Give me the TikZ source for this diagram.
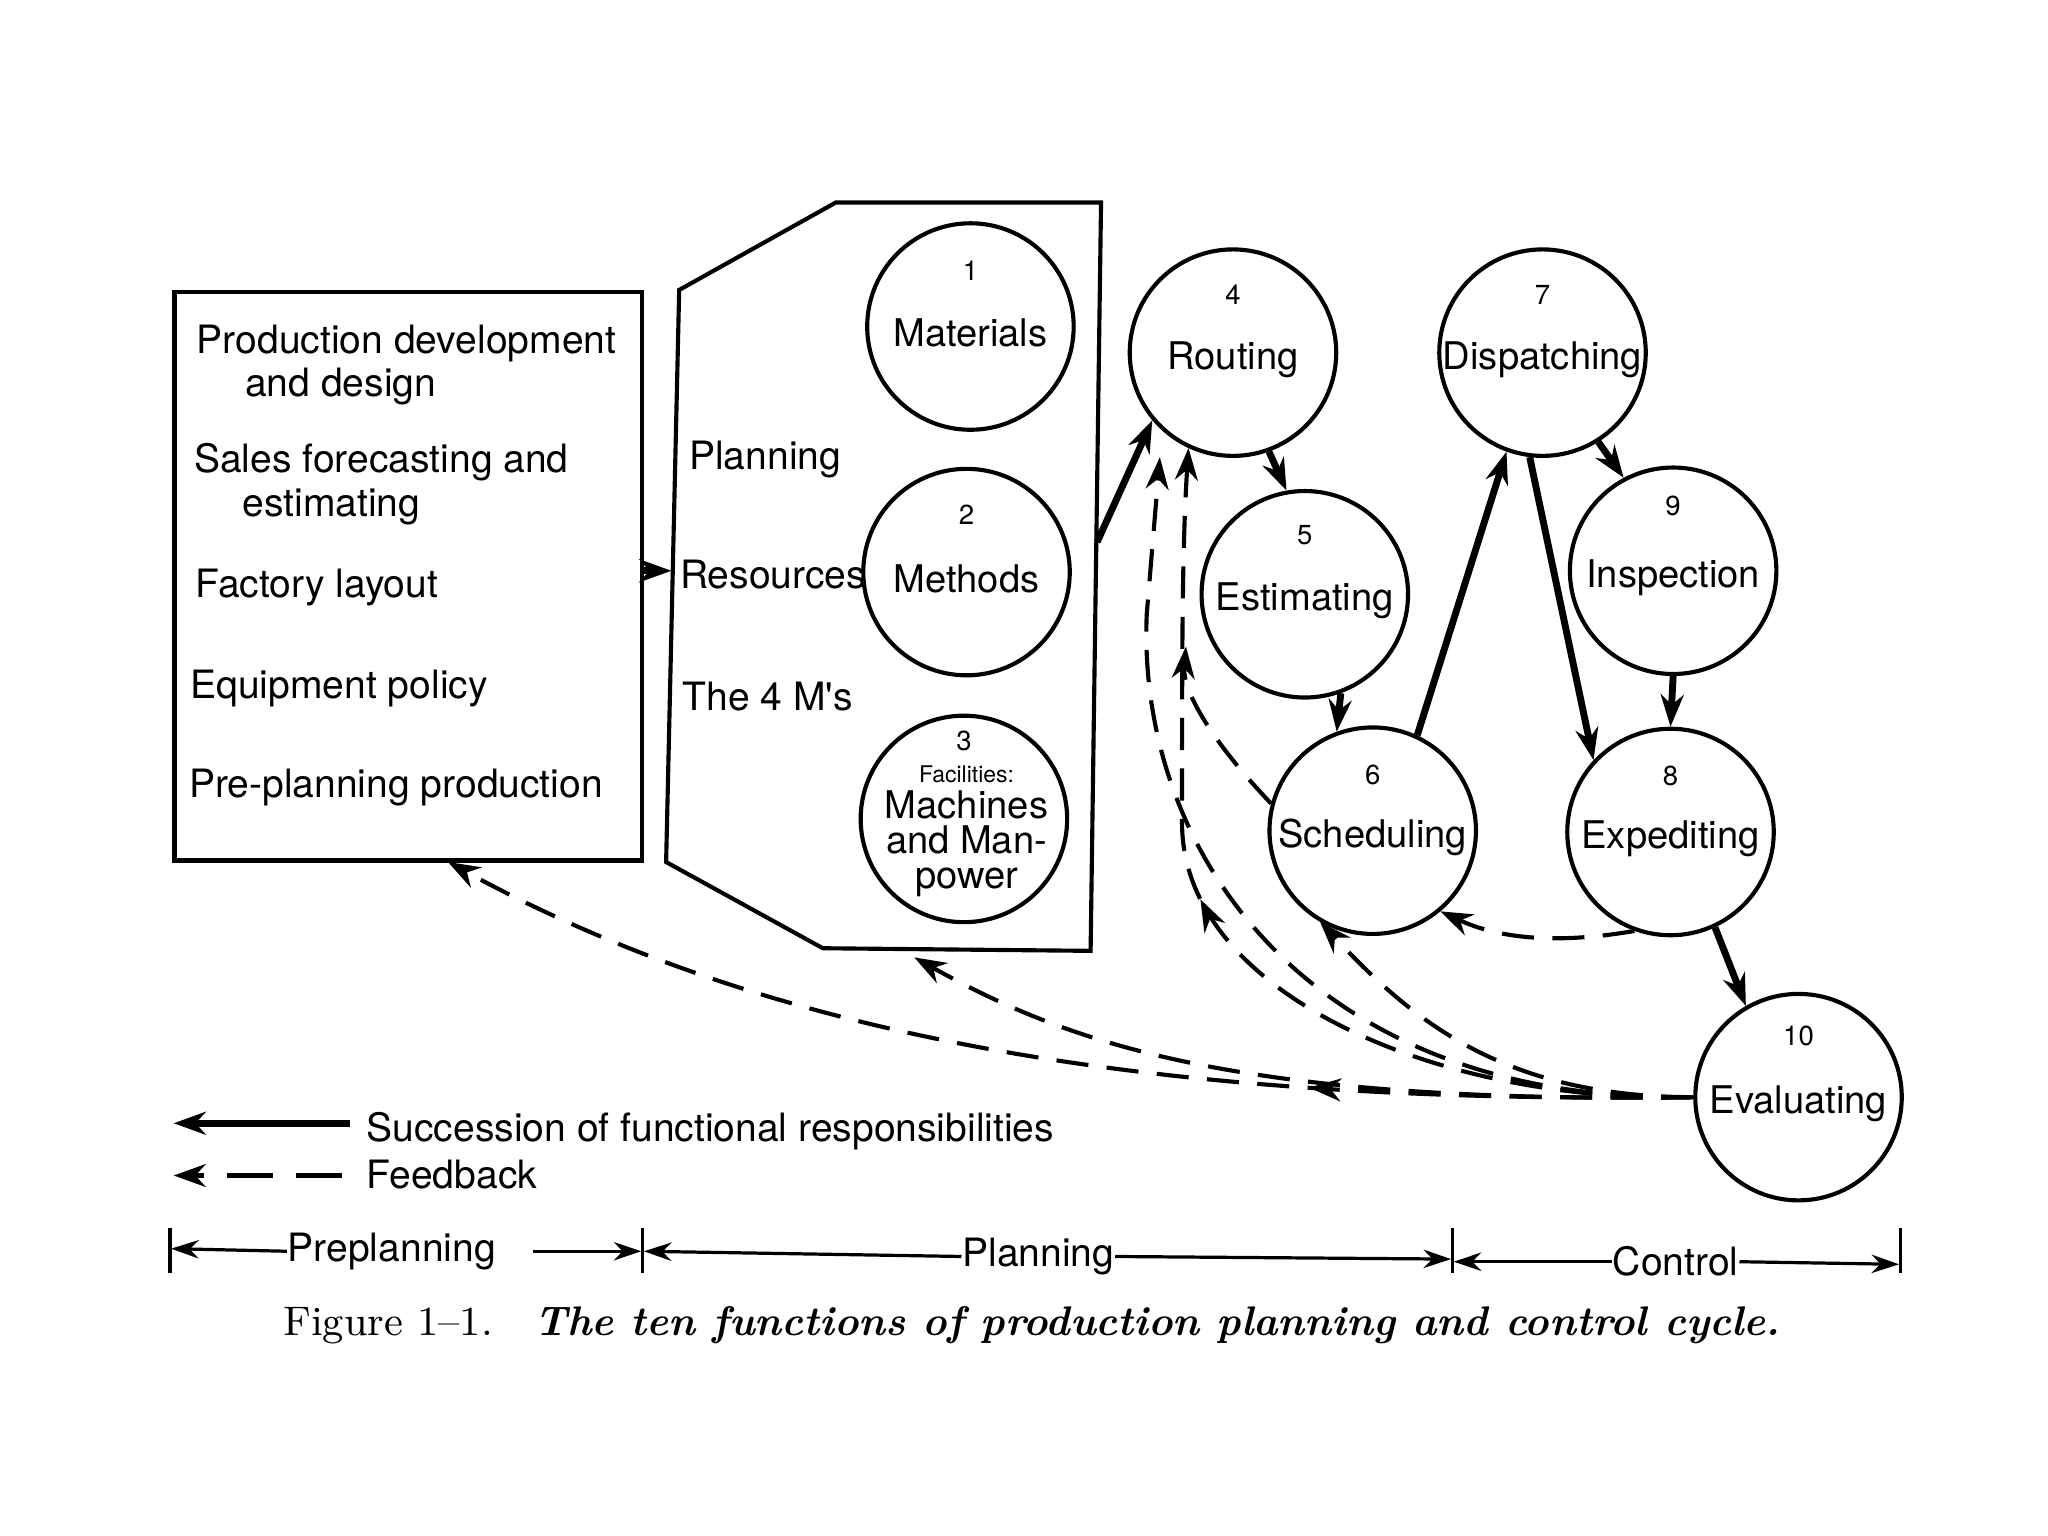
\documentclass[tikz,border=0pt]{standalone}
\usepackage{fontspec}
\newfontfamily\sansf{TeX Gyre Heros}
\usetikzlibrary{arrows.meta,decorations.markings}
\begin{document}
\begin{tikzpicture}[x=0.01cm,y=-0.01cm,
  txt/.style={font=\sansf\fontsize{8.5}{9}\selectfont,inner sep=0pt},
  circ/.style={draw,circle,line width=0.9pt,minimum size=1.58cm,inner sep=0pt,align=center,font=\sansf\fontsize{8.3}{9}\selectfont},
  num/.style={font=\sansf\fontsize{6}{7}\selectfont},
  succ/.style={line width=1.5pt,-{Stealth[length=7pt,width=5pt]}},
  fb/.style={line width=0.9pt,dash pattern=on 7pt off 4pt,-{Stealth[length=7pt,width=5pt]}},
  midarr/.style={postaction={decorate},decoration={markings,mark=at position #1 with {\arrow[line width=0.9pt]{Stealth[length=7pt,width=5pt]}}}}]
\useasboundingbox (0,0) rectangle (1568,1176);
\node[draw,line width=0.9pt,minimum width=3.58cm,minimum height=4.35cm,anchor=north west] (pre) at (132,222) {};
\node[txt,anchor=west] (t1) at (150,263) {Production development};
\node[txt,anchor=west] (t2) at (187,296) {and design};
\node[txt,anchor=west] (t3) at (148,354) {Sales forecasting and};
\node[txt,anchor=west] (t4) at (185,388) {estimating};
\node[txt,anchor=west] (t5) at (149,450) {Factory layout};
\node[txt,anchor=west] (t6) at (145,527) {Equipment policy};
\node[txt,anchor=west] (t7) at (144,603) {Pre-planning production};
\draw[line width=0.9pt] (520,222) -- (640,155) -- (843,155) -- (835,728) -- (630,726) -- (510,660) -- cycle;
\coordinate (resL) at (514,437);
\coordinate (resR) at (840,415);
\coordinate (resB) at (700,733);
\node[txt,anchor=west] (p1) at (527,352) {Planning};
\node[txt,anchor=west] (p2) at (520,440) {Resources};
\node[txt,anchor=west] (p3) at (522,533) {The 4 M's};
\node[circ] (c1) at (743,250) {\\Materials};
\node[num] at (743,207) {1};
\node[circ] (c2) at (740,438) {\\Methods};
\node[num] at (740,394) {2};
\node[circ] (c3) at (738,627) {};
\node[num] at (738,567) {3};
\node[font=\sansf\fontsize{5}{6}\selectfont] at (740,593) {Facilities:};
\node[align=center,font=\sansf\fontsize{8.3}{7.6}\selectfont] at (740,646) {Machines\\and Man-\\power};
\node[circ] (c4) at (944,270) {\\Routing};
\node[num] at (944,226) {4};
\node[circ] (c5) at (999,455) {\\Estimating};
\node[num] at (999,410) {5};
\node[circ] (c6) at (1051,636) {\\Scheduling};
\node[num] at (1051,593) {6};
\node[circ] (c7) at (1181,270) {\\Dispatching};
\node[num] at (1181,226) {7};
\node[circ] (c8) at (1279,637) {\\Expediting};
\node[num] at (1279,594) {8};
\node[circ] (c9) at (1281,437) {\\Inspection};
\node[num] at (1281,387) {9};
\node[circ] (c10) at (1377,840) {\\Evaluating};
\node[num] at (1377,793) {10};
% succession
\draw[succ] (pre.east |- resL) -- (resL);
\draw[succ] (resR) -- (c4.220);
\draw[succ] (c4.290) -- (c5.100);
\draw[succ] (c5.290) -- (c6.110);
\draw[succ] (c6.65) -- (c7.250);
\draw[succ] (c7.263) -- (c8.137);
\draw[succ] (c7.302) -- (c9.118);
\draw[succ] (c9.270) -- (c8.90);
\draw[succ] (c8.295) -- (c10.120);
% feedback
\draw[fb] (c8.250) .. controls (1180,725) and (1140,715) .. (c6.310);
\draw[fb] (c6.165) .. controls (930,570) and (905,530) .. (908,495);
\draw[fb,midarr=0.55] (c10.180) .. controls (1100,845) and (905,760) .. (905,630) .. controls (905,500) and (905,420) .. (c4.245);
\draw[fb] (c10.180) .. controls (1000,845) and (870,650) .. (878,470) -- (888,350);
\draw[fb] (c10.180) .. controls (1150,840) and (1080,780) .. (c6.240);
\draw[fb] (c10.180) .. controls (950,845) and (820,800) .. (resB);
\draw[fb,midarr=0.3] (c10.180) .. controls (900,845) and (600,800) .. (343,660);
% legend
\coordinate (l1a) at (268,860); \coordinate (l1b) at (133,860);
\draw[succ] (l1a) -- (l1b);
\node[txt,anchor=west] (lg1) at (280,866) {Succession of functional responsibilities};
\coordinate (l2a) at (262,900); \coordinate (l2b) at (133,900);
\draw[fb,dash pattern=on 10pt off 5pt] (l2a) -- (l2b);
\node[txt,anchor=west] (lg2) at (280,899) {Feedback};
% scale
\foreach \x in {130,492,1112,1455} \draw[line width=0.8pt] (\x,940) -- (\x,975);
\node[txt] (s1) at (300,958) {Preplanning};
\node[txt] (s2) at (795,962) {Planning};
\node[txt] (s3) at (1283,966) {Control};
\draw[-{Stealth[length=6pt,width=4pt]},line width=0.7pt] (s1.west) -- (131,956);
\draw[-{Stealth[length=6pt,width=4pt]},line width=0.7pt] (408,958) -- (491,958);
\draw[-{Stealth[length=6pt,width=4pt]},line width=0.7pt] (s2.west) -- (493,958);
\draw[-{Stealth[length=6pt,width=4pt]},line width=0.7pt] (s2.east) -- (1111,964);
\draw[-{Stealth[length=6pt,width=4pt]},line width=0.7pt] (s3.west) -- (1113,966);
\draw[-{Stealth[length=6pt,width=4pt]},line width=0.7pt] (s3.east) -- (1454,968);
\node[font=\fontsize{9}{11}\selectfont] (cap) at (790,1015) {Figure 1--1.\quad \textbf{\textit{The ten functions of production planning and control cycle.}}};
\end{tikzpicture}
\end{document}
